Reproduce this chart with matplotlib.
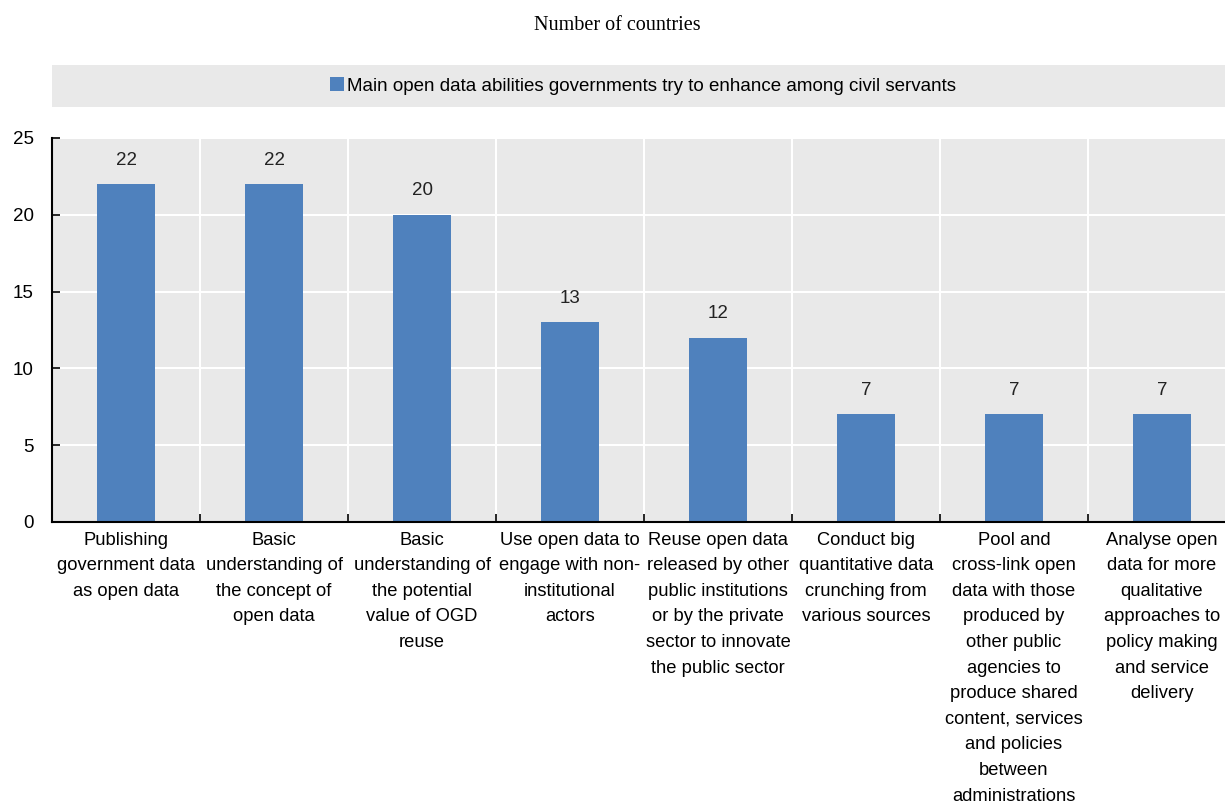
import numpy as np
import matplotlib.pyplot as plt
from matplotlib.patches import Rectangle, Patch

# abilities and number of countries
categories = [
    "Publishing\ngovernment data\nas open data",
    "Basic\nunderstanding of\nthe concept of\nopen data",
    "Basic\nunderstanding of\nthe potential\nvalue of OGD\nreuse",
    "Use open data to\nengage with non-\ninstitutional\nactors",
    "Reuse open data\nreleased by other\npublic institutions\nor by the private\nsector to innovate\nthe public sector",
    "Conduct big\nquantitative data\ncrunching from\nvarious sources",
    "Pool and\ncross-link open\ndata with those\nproduced by\nother public\nagencies to\nproduce shared\ncontent, services\nand policies\nbetween\nadministrations",
    "Analyse open\ndata for more\nqualitative\napproaches to\npolicy making\nand service\ndelivery",
]
counts = [22, 22, 20, 13, 12, 7, 7, 7]
series_name = "Main open data abilities governments try to enhance among civil servants"
yticks = [0, 5, 10, 15, 20, 25]

bar_col = "#4F81BD"
bg = "#E9E9E9"
sans = ["Liberation Sans Narrow", "Liberation Sans", "DejaVu Sans"]
serif = ["Liberation Serif", "DejaVu Serif"]

W, H = 1225, 809
fig = plt.figure(figsize=(W / 100, H / 100), dpi=100)

# axes spans 52..1236 px horizontally, 138..522 px vertically
ax = fig.add_axes([52 / W, 1 - 522 / H, (1236 - 52) / W, (522 - 138) / H])
ax.set_facecolor(bg)
x = np.arange(len(categories))
ax.bar(x, counts, width=0.39, color=bar_col, zorder=3)
for xi, v in zip(x, counts):
    ax.text(xi, v + 1.55, str(v), ha="center", va="center",
            fontsize=13.5, family=sans, color="#222222")

ax.set_xlim(-0.5, 7.5)
ax.set_ylim(0, 25)
ax.set_yticks(yticks)
ax.set_yticklabels([str(t) for t in yticks], family=sans, fontsize=13.5)
ax.set_xticks(x)
ax.set_xticklabels(categories, family=sans, fontsize=13.2, linespacing=1.66,
                   va="top")
ax.set_xticks(np.arange(0.5, 7.5, 1), minor=True)
ax.tick_params(axis="x", which="major", length=0, pad=7)
ax.tick_params(axis="x", which="minor", direction="in", length=6, width=1.2)
ax.tick_params(axis="y", direction="in", length=6, width=1.2, pad=13)
ax.grid(axis="y", color="white", linewidth=1.5, zorder=0)
ax.grid(axis="x", which="minor", color="white", linewidth=1.5, zorder=0)
ax.set_axisbelow(True)
for s in ["top", "right"]:
    ax.spines[s].set_visible(False)
for s in ["left", "bottom"]:
    ax.spines[s].set_linewidth(1.5)
    ax.spines[s].set_zorder(4)

# title
fig.text(617 / W, 1 - 25 / H, "Number of countries", ha="center", va="center",
         fontsize=14.5, family=serif)

# legend band
fig.patches.append(Rectangle((52 / W, 1 - 107 / H), (W - 52) / W, 42 / H,
                             transform=fig.transFigure, facecolor=bg,
                             edgecolor="none", zorder=0))
fig.legend([Patch(facecolor=bar_col)], [series_name], loc="center",
           bbox_to_anchor=(643 / W, 1 - 86 / H), frameon=False,
           handlelength=0.75, handleheight=0.75, handletextpad=0.2,
           prop={"family": sans, "size": 13.5})

fig.savefig("out.png", dpi=100)
